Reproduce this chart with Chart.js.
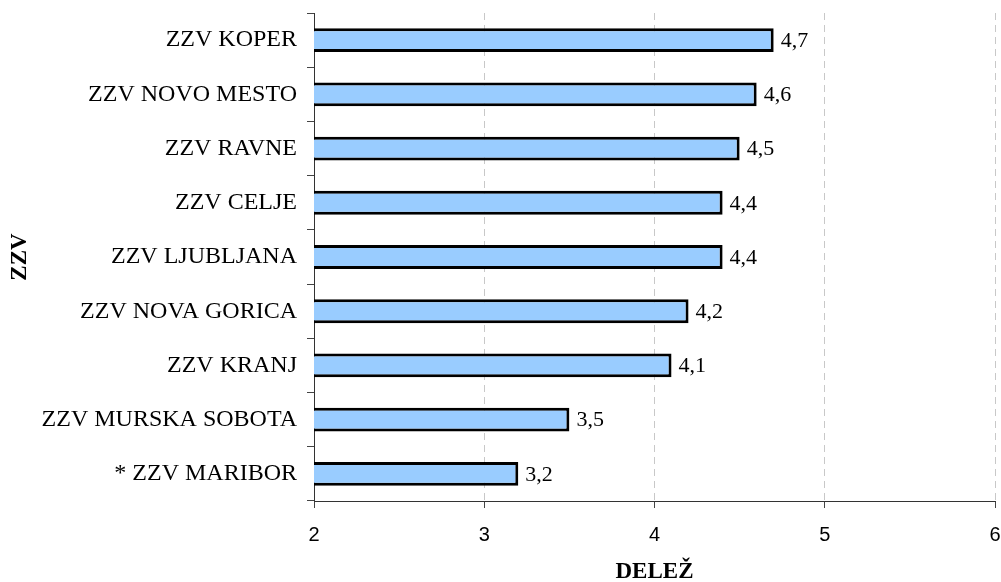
<!DOCTYPE html>
<html>
<head>
<meta charset="utf-8">
<script src="https://cdn.jsdelivr.net/npm/chart.js@4/dist/chart.umd.min.js"></script>
<style>
  html, body { margin: 0; padding: 0; background: #fff; }
  #wrap { width: 1001px; height: 582px; }
</style>
</head>
<body>
<div id="wrap"><canvas id="chart" width="1001" height="582"></canvas></div>
<script>
// ZZV delež – vodoravni stolpci
const categories = [
  'ZZV KOPER', 'ZZV NOVO MESTO', 'ZZV RAVNE', 'ZZV CELJE', 'ZZV LJUBLJANA',
  'ZZV NOVA GORICA', 'ZZV KRANJ', 'ZZV MURSKA SOBOTA', '* ZZV MARIBOR'
];
const values = [4.7, 4.6, 4.5, 4.4, 4.4, 4.2, 4.1, 3.5, 3.2];
const xTicks = [2, 3, 4, 5, 6];

const SERIF = "'Liberation Serif', 'Times New Roman', serif";
const SANS  = "'Liberation Sans', Arial, sans-serif";

// napis vrednosti desno od stolpca (z decimalno vejico)
const valueLabels = {
  id: 'valueLabels',
  afterDatasetsDraw(chart) {
    const ctx = chart.ctx;
    const meta = chart.getDatasetMeta(0);
    ctx.save();
    ctx.font = '22px ' + SERIF;
    ctx.fillStyle = '#000';
    ctx.textAlign = 'left';
    ctx.textBaseline = 'middle';
    meta.data.forEach((bar, i) => {
      ctx.fillText(String(values[i]).replace('.', ','), bar.x + 7, bar.y + 1);
    });
    ctx.restore();
  }
};

new Chart(document.getElementById('chart').getContext('2d'), {
  type: 'bar',
  data: {
    labels: categories,
    datasets: [{
      data: values,
      backgroundColor: '#99CCFF',
      borderColor: '#000',
      borderWidth: 3,
      borderSkipped: false,
      categoryPercentage: 1,
      barPercentage: 0.44,
    }]
  },
  options: {
    indexAxis: 'y',
    responsive: false,
    animation: false,
    layout: { padding: { top: 13, right: 6, left: 0, bottom: 0 } },
    plugins: { legend: { display: false }, tooltip: { enabled: false } },
    scales: {
      x: {
        min: 2, max: 6,
        afterBuildTicks: s => { s.ticks = xTicks.map(v => ({ value: v })); },
        afterFit: s => { s.height = 81; s.paddingLeft = 0; s.paddingRight = 0; },
        ticks: { color: '#000', font: { size: 20, family: SANS }, padding: 15 },
        grid: {
          color: c => (c.tick && c.tick.value === 2) ? 'rgba(0,0,0,0)' : '#c8c8c8',
          tickColor: '#444',
          tickLength: 7,
          tickBorderDash: [],
        },
        border: { color: '#333', width: 1, dash: [7, 5] },
        title: {
          display: true, text: 'DELEŽ', color: '#000',
          font: { size: 23, weight: 'bold', family: SERIF, lineHeight: 1 },
          padding: { top: 0, bottom: -2 }
        }
      },
      y: {
        afterFit: s => { s.width = 314; s.paddingTop = 0; s.paddingBottom = 0; },
        ticks: { color: '#000', font: { size: 24, family: SERIF }, padding: 10 },
        grid: { display: true, drawOnChartArea: false, tickLength: 7, tickColor: '#444' },
        border: { color: '#333', width: 1 },
        title: {
          display: true, text: 'ZZV', color: '#000',
          font: { size: 23, weight: 'bold', family: SERIF },
          padding: { top: 6, bottom: 0 }
        }
      }
    }
  },
  plugins: [valueLabels]
});
</script>
</body>
</html>
